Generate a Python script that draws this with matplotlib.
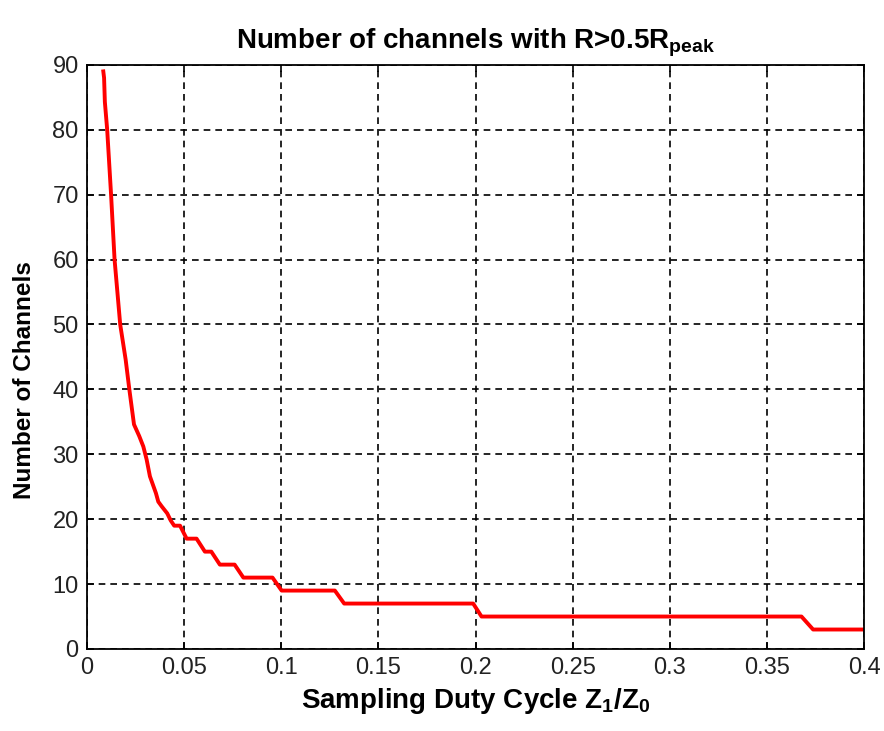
import matplotlib.pyplot as plt
from matplotlib import font_manager

# duty cycle Z1/Z0 and number of channels
duty = [0.0084, 0.0088, 0.0092, 0.0104, 0.0124, 0.0142, 0.0171, 0.0199, 0.0218,
        0.0242, 0.0269, 0.0290, 0.0307, 0.0324, 0.0355, 0.0367, 0.0384, 0.0413,
        0.0431, 0.0449, 0.0479, 0.0513, 0.0564, 0.0607, 0.0640, 0.0684, 0.0760,
        0.0805, 0.0955, 0.1002, 0.1276, 0.1324, 0.1988, 0.2031, 0.3678, 0.3738,
        0.4000]
channels = [89, 88, 84.3, 80, 70, 60, 50, 44.6, 40,
            34.6, 32.8, 31.2, 29.2, 26.6, 24.0, 22.7, 22.0, 20.9,
            19.8, 19, 19, 17, 17, 15, 15, 13, 13,
            11, 11, 9, 9, 7, 7, 5, 5, 3,
            3]

xticks = [0, 0.05, 0.1, 0.15, 0.2, 0.25, 0.3, 0.35, 0.4]
xticklabels = ["0", "0.05", "0.1", "0.15", "0.2", "0.25", "0.3", "0.35", "0.4"]
yticks = list(range(0, 91, 10))

names = {f.name for f in font_manager.fontManager.ttflist}
tick_font = "Liberation Sans Narrow" if "Liberation Sans Narrow" in names else "Liberation Sans"

plt.rcParams["font.family"] = ["Liberation Sans", "DejaVu Sans"]
plt.rcParams["mathtext.fontset"] = "custom"
plt.rcParams["mathtext.rm"] = "Liberation Sans"
plt.rcParams["mathtext.bf"] = "Liberation Sans:bold"

fig = plt.figure(figsize=(8.84, 7.31), dpi=100)
ax = fig.add_axes([0.0984, 0.1122, 0.879, 0.799])

ax.plot(duty, channels, color="red", linewidth=2.8)

ax.set_xlim(0, 0.4)
ax.set_ylim(0, 90)
ax.set_xticks(xticks)
ax.set_xticklabels(xticklabels)
ax.set_yticks(yticks)
for lab in ax.get_xticklabels() + ax.get_yticklabels():
    lab.set_fontfamily(tick_font)
    lab.set_fontsize(17)
    lab.set_color("#222222")

ax.tick_params(direction="in", top=True, right=True, length=5, width=1.2, pad=6)
ax.grid(True, color="black", linestyle=(0, (4, 3)), linewidth=1.2)
for s in ax.spines.values():
    s.set_linewidth(1.3)

ax.set_title(r"Number of channels with R>0.5R$_{\mathbf{peak}}$", fontsize=20,
             fontweight="bold", pad=12)
ax.set_xlabel(r"Sampling Duty Cycle $\mathbf{Z_1/Z_0}$", fontsize=20, fontweight="bold", labelpad=5)
ax.set_ylabel("Number of Channels", fontsize=17.5, fontweight="bold")
ax.yaxis.set_label_coords(-0.066, 0.46)

fig.savefig("out.png", dpi=100)
